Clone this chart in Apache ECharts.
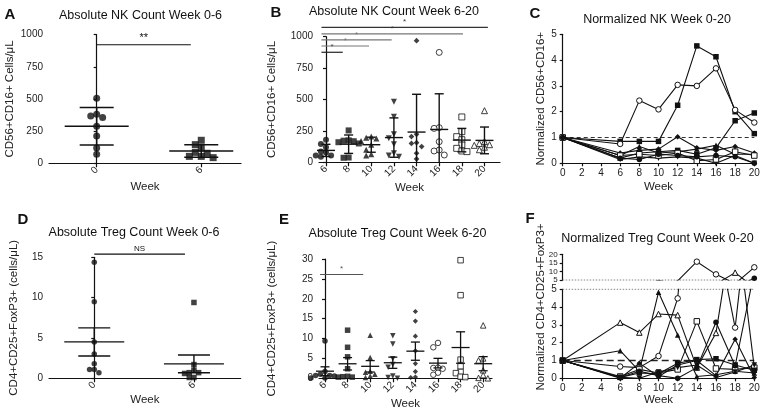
<!DOCTYPE html>
<html><head><meta charset="utf-8">
<script src="https://cdn.jsdelivr.net/npm/echarts@6/dist/echarts.min.js"></script>
<style>html,body{margin:0;padding:0;background:#fff}#c{width:764px;height:414px}</style>
</head><body><div id="c"></div>
<script>
const FONT = '"Liberation Sans", Arial, sans-serif';
const INK = '#111';

// ---------- categories / tick labels ----------
const earlyWeeks = ['0', '6'];
const lateWeeks = ['6', '8', '10', '12', '14', '16', '18', '20'];
const timeWeeks = [0, 6, 8, 10, 12, 14, 16, 18, 20];

// ---------- Panel A / B : absolute NK counts (cells/uL) ----------
const nkWeek0 = [505, 368, 357, 381, 288, 212, 119, 70];
const nkWeek6 = [179, 145, 119, 85, 78, 54, 44, 54];
const nkWeek8 = [254, 175, 172, 168, 160, 150, 38, 36];
const nkWeek10 = [205, 195, 190, 170, 140, 100, 65, 55];
const nkWeek12 = [483, 363, 223, 191, 143, 72, 45, 55];
const nkWeek14 = [968, 223, 205, 156, 150, 125, 72, 27];
const nkWeek16 = [875, 276, 270, 164, 98, 90, 58];
const nkWeek18 = [361, 244, 204, 180, 138, 111, 90, 85];
const nkWeek20 = [411, 165, 150, 140, 135, 120, 100];

// ---------- Panel D / E : absolute Treg counts (cells/uL) ----------
const tregWeek0 = [14.4, 9.5, 4.5, 3.0, 1.8, 1.1, 0.7, 1.1];
const tregWeek6 = [9.4, 1.7, 1.0, 0.7, 0.6, 0.7, 0.1, 0.1];
const tregWeek8 = [12.1, 7.8, 5.4, 2.4, 0.4, 0.3, 0.3, 0.5];
const tregWeek10 = [10.8, 5.2, 1.8, 1.5, 1.0, 0.6, 0.2];
const tregWeek12 = [10.7, 8.6, 4.9, 3.5, 2.8, 0.6, 0.2, 0.0];
const tregWeek14 = [16.8, 14.4, 10.6, 6.9, 3.7, 1.7, 0.3, 0.2];
const tregWeek16 = [8.9, 7.8, 2.6, 2.4, 2.7, 1.4, 0.9];
const tregWeek18 = [29.7, 20.9, 4.7, 3.0, 1.6, 1.3, 0.4, 0.3];
const tregWeek20 = [13.3, 5.0, 4.5, 2.0, 0.8, 0.1, 0.0];

// ---------- Panel C : normalized NK per patient (weeks 0..20) ----------
const nkNormP1 = [1, 0.85, 0.85, 0.85, 2.25, 4.55, 4.13, 2.0, 1.15];
const nkNormP2 = [1, 0.75, 2.43, 2.09, 3.04, 3.0, 3.68, 2.07, 1.58];
const nkNormP3 = [1, 0.2, 0.4, 0.45, 0.5, 0.35, 0.6, 1.65, 1.95];
const nkNormP4 = [1, 0.4, 0.5, 0.55, 1.03, 0.6, 0.5, 0.65, 0.4];
const nkNormP5 = [1, 0.3, 0.65, 0.4, 0.45, 0.55, 0.7, 0.35, 0.35];
const nkNormP6 = [1, 0.15, 0.25, 0.2, 0.25, 0.2, 0.0, 0.3, 0.0];
const nkNormP7 = [1, 0.3, 0.35, 0.3, 0.4, 0.1, 0.15, 0.45, 0.3];
const nkNormP8 = [1, 0.2, 0.15, 0.35, 0.3, 0.25, 0.3, 0.25, 0.0];

// ---------- Panel F : normalized Treg per patient (weeks 0..20) ----------
const tregNormP1 = [1, 3.13, 2.57, 3.61, 3.55, 0.6, 2.55, 9.3, 0.6];
const tregNormP2 = [1, 1.55, 0.4, 4.83, 2.43, 0.1, 0.2, 0.4, 0.3];
const tregNormP3 = [1, 0.66, 0.6, 1.25, 4.49, 15.7, 8.3, 2.85, 12.4];
const tregNormP4 = [1, 0.1, 0.5, 0.3, 0.5, 3.2, 0.55, 0.5, 0.6];
const tregNormP5 = [1, 0.05, 0.4, 0.15, 0.0, 0.6, 3.15, 0.7, 6.0];
const tregNormP6 = [1, 0.05, 0.3, 0.25, 0.85, 1.05, 1.1, 0.75, 0.45];
const tregNormP7 = [1, 0.0, 0.85, 0.1, 0.75, 1.0, 0.15, 2.19, 0.05];
const tregNormP8 = [1, 0.05, 0.0, 0.35, 0.6, 0.75, 0.05, 0.35, 0.75];

// ---------- significance annotations: [fromIdx, toIdx, y] ----------
const sigA = [[0, 0.9, 922]];
const sigALabels = ['**'];
const sigB = [[-0.2, 0.74, 876], [-0.2, 1.9, 926], [-0.2, 2.9, 974], [-0.2, 6.05, 1022], [-0.2, 7.15, 1075]];
const sigBLabels = ['*', '*', '*', '*', '*'];
const sigD = [[0, 0.91, 15.4]];
const sigDLabels = ['NS'];
const sigE = [[-0.22, 1.69, 26.1]];
const sigELabels = ['*'];

// ================= helpers =================
const lateSymbols = ['circle', 'rect', 'triangle', 'invtri', 'diamond', 'circleO', 'rectO', 'triangleO'];
const earlySymbols = ['circle', 'rect'];
const nkSymbols = ['rect', 'circleO', 'rect', 'diamond', 'triangle', 'invtri', 'rectO', 'circle'];
const tregSymbols = ['triangleO', 'triangle', 'circleO', 'rectO', 'circle', 'rect', 'diamond', 'invtri'];

function sym(name) {
  const open = name.endsWith('O');
  const base = open ? name.slice(0, -1) : name;
  const map = { circle: 'circle', rect: 'rect', triangle: 'triangle', diamond: 'diamond', invtri: 'path://M0,0L10,0L5,9Z' };
  return {
    symbol: map[base],
    itemStyle: open ? { color: '#fff', borderColor: INK, borderWidth: 1 } : { color: INK }
  };
}

function mean(a) { return a.reduce((s, v) => s + v, 0) / a.length; }
function sd(a) { const m = mean(a); return Math.sqrt(a.reduce((s, v) => s + (v - m) * (v - m), 0) / (a.length - 1)); }
function sem(a) { return sd(a) / Math.sqrt(a.length); }

// simple beeswarm: horizontal pixel offsets so markers do not overlap much
function swarm(values, pxPerY, size) {
  const order = values.map((v, i) => i).sort((a, b) => values[b] - values[a]);
  const placed = [];
  const out = new Array(values.length).fill(0);
  const d = size * 0.85;
  order.forEach(i => {
    const v = values[i];
    for (let k = 0; k < 20; k++) {
      const step = Math.ceil(k / 2) * (k % 2 ? -1 : 1);
      const cx = step * d;
      const hit = placed.some(p => {
        const dx = cx - p.x, dy = (v - p.v) * pxPerY;
        return dx * dx + dy * dy < d * d;
      });
      if (!hit) { placed.push({ x: cx, v }); out[i] = cx; break; }
    }
  });
  return out;
}

function scatterGroups(groups, symbols, axis, pxPerX, pxPerY, size) {
  return groups.map((vals, gi) => {
    const off = swarm(vals, pxPerY, size);
    const s = sym(symbols[gi]);
    return {
      type: 'scatter', xAxisIndex: axis, yAxisIndex: axis,
      symbol: s.symbol, itemStyle: s.itemStyle,
      symbolSize: symbols[gi].startsWith('diamond') ? size * 0.95 : size,
      clip: false, z: 4, silent: true,
      data: vals.map((v, i) => [gi + off[i] / pxPerX, v])
    };
  });
}

function errorBars(groups, axis, spread, halfMean, halfCap, width) {
  return {
    type: 'custom', xAxisIndex: axis, yAxisIndex: axis, z: 5, silent: true,
    data: groups.map((g, i) => { const m = mean(g), e = spread(g); return [i, m, m - e, m + e]; }),
    renderItem: function (params, api) {
      const x = api.value(0), m = api.value(1), loRaw = api.value(2), hi = api.value(3);
      const lo = Math.max(loRaw, 0);
      const pm = api.coord([x, m]), pl = api.coord([x, lo]), ph = api.coord([x, hi]);
      const st = { stroke: INK, lineWidth: width };
      const ch = [
        { type: 'line', shape: { x1: pm[0], y1: ph[1], x2: pm[0], y2: pl[1] }, style: st },
        { type: 'line', shape: { x1: pm[0] - halfMean, y1: pm[1], x2: pm[0] + halfMean, y2: pm[1] }, style: st },
        { type: 'line', shape: { x1: pm[0] - halfCap, y1: ph[1], x2: pm[0] + halfCap, y2: ph[1] }, style: st }
      ];
      if (loRaw >= 0) ch.push({ type: 'line', shape: { x1: pm[0] - halfCap, y1: pl[1], x2: pm[0] + halfCap, y2: pl[1] }, style: st });
      return { type: 'group', children: ch };
    }
  };
}

function sigBars(bars, labels, colors, axis, fontSize) {
  return {
    type: 'custom', xAxisIndex: axis, yAxisIndex: axis, z: 5, silent: true,
    data: bars,
    renderItem: function (params, api) {
      const p1 = api.coord([api.value(0), api.value(2)]);
      const p2 = api.coord([api.value(1), api.value(2)]);
      const c = colors[params.dataIndex];
      return {
        type: 'group', children: [
          { type: 'line', shape: { x1: p1[0], y1: p1[1], x2: p2[0], y2: p2[1] }, style: { stroke: c, lineWidth: 1.2 } },
          { type: 'text', style: { text: labels[params.dataIndex], x: (p1[0] + p2[0]) / 2, y: p1[1] - 1.5, fill: c, font: fontSize + 'px ' + FONT, align: 'center', verticalAlign: 'bottom' } }
        ]
      };
    }
  };
}

function hLines(lines, axis, style) {
  return {
    type: 'custom', xAxisIndex: axis, yAxisIndex: axis, z: 2, silent: true,
    data: lines,
    renderItem: function (params, api) {
      const p1 = api.coord([api.value(0), api.value(2)]);
      const p2 = api.coord([api.value(1), api.value(2)]);
      return { type: 'line', shape: { x1: p1[0], y1: p1[1], x2: p2[0], y2: p2[1] }, style: style };
    }
  };
}

function patientLines(rows, symbols, axis, clip) {
  return rows.map((row, pi) => {
    const s = sym(symbols[pi]);
    return {
      type: 'line', xAxisIndex: axis, yAxisIndex: axis, clip: clip, silent: true,
      symbol: s.symbol, itemStyle: s.itemStyle, symbolSize: 5.5, showSymbol: true,
      lineStyle: { color: INK, width: 1.1 }, z: 3,
      data: row.map((v, i) => [timeWeeks[i], v])
    };
  });
}

// ================= axes =================
const axisLineStyle = { lineStyle: { color: INK, width: 1.2 } };
const tickStyle = { show: true, inside: false, length: 4, lineStyle: { color: INK, width: 1.2 } };
const labelBase = { color: '#222', fontFamily: FONT, fontSize: 10 };
const nameStyle = { color: '#222', fontFamily: FONT, fontSize: 11.5 };

function catX(labels, min, max, nameGap) {
  const vals = labels.map((l, i) => i);
  return {
    type: 'value', min: min, max: max, splitLine: { show: false },
    axisLine: axisLineStyle, axisTick: Object.assign({ customValues: vals }, tickStyle),
    axisLabel: Object.assign({ customValues: vals, rotate: 45, margin: 5, formatter: v => labels[Math.round(v)] }, labelBase),
    name: 'Week', nameLocation: 'middle', nameGap: nameGap, nameTextStyle: nameStyle
  };
}
function weekX(nameGap, show) {
  return {
    type: 'value', min: 0, max: 20, interval: 2, splitLine: { show: false }, show: show,
    axisLine: axisLineStyle, axisTick: tickStyle,
    axisLabel: Object.assign({ margin: 5 }, labelBase),
    name: show ? 'Week' : '', nameLocation: 'middle', nameGap: nameGap, nameTextStyle: nameStyle
  };
}
function valY(min, max, interval, name, nameGap, fs) {
  return {
    type: 'value', min: min, max: max, interval: interval, splitLine: { show: false },
    axisLine: Object.assign({ show: true }, axisLineStyle), axisTick: tickStyle,
    axisLabel: Object.assign({}, labelBase, { margin: 6, fontSize: fs || 10, hideOverlap: false, showMinLabel: true, showMaxLabel: true, formatter: v => String(v) }),
    name: name, nameLocation: 'middle', nameRotate: 90, nameGap: nameGap, nameTextStyle: nameStyle
  };
}

function grid(left, top, width, height) {
  return { left: left, top: top, width: width, height: height, containLabel: false, outerBoundsMode: 'none' };
}

const grids = [
  grid(49, 34.7, 192, 128.6),      // 0 A
  grid(319, 36.7, 181, 125.6),     // 1 B
  grid(562.7, 34.3, 191.6, 129),   // 2 C
  grid(49, 257.3, 191.7, 121),     // 3 D
  grid(319, 259, 173, 119.3),      // 4 E
  grid(562.7, 254.3, 191.6, 25.7), // 5 F upper
  grid(562.7, 289.3, 191.6, 89)    // 6 F lower
];

const xAxes = [
  catX(earlyWeeks, -0.456, 1.38, 18),
  catX(lateWeeks, -0.309, 7.686, 20),
  weekX(18, true),
  catX(earlyWeeks, -0.454, 1.469, 16),
  catX(lateWeeks, -0.265, 7.39, 19),
  weekX(0, false),
  weekX(15, true)
];
xAxes.forEach((a, i) => a.gridIndex = i);

const yAxes = [
  valY(0, 1000, 250, 'CD56+CD16+ Cells/\u03bcL', 33),
  valY(0, 1000, 250, 'CD56+CD16+ Cells/\u03bcL', 41),
  valY(0, 5, 1, 'Normalized CD56+CD16+', 15),
  valY(0, 15, 5, 'CD4+CD25+FoxP3+ (cells/\u03bcL)', 29),
  valY(0, 30, 5, 'CD4+CD25+FoxP3+ (cells/\u03bcL)', 41),
  valY(5, 20, 5, '', 0, 8),
  valY(0, 5, 1, '', 0)
];
yAxes.forEach((a, i) => a.gridIndex = i);
yAxes[5].axisLabel.margin = 5;
yAxes[5].axisTick.length = 3;

// ================= series =================
const nkEarly = [nkWeek0, nkWeek6];
const nkLate = [nkWeek6, nkWeek8, nkWeek10, nkWeek12, nkWeek14, nkWeek16, nkWeek18, nkWeek20];
const tregEarly = [tregWeek0, tregWeek6];
const tregLate = [tregWeek6, tregWeek8, tregWeek10, tregWeek12, tregWeek14, tregWeek16, tregWeek18, tregWeek20];
const nkNorm = [nkNormP1, nkNormP2, nkNormP3, nkNormP4, nkNormP5, nkNormP6, nkNormP7, nkNormP8];
const tregNorm = [tregNormP1, tregNormP2, tregNormP3, tregNormP4, tregNormP5, tregNormP6, tregNormP7, tregNormP8];

const series = [].concat(
  scatterGroups(nkEarly, earlySymbols, 0, 104.6, 128.6 / 1000, 7),
  [errorBars(nkEarly, 0, sd, 32, 17, 1.5), sigBars(sigA, sigALabels, [INK], 0, 11)],
  scatterGroups(nkLate, lateSymbols, 1, 22.64, 125.6 / 1000, 6),
  [errorBars(nkLate, 1, sd, 9, 4.5, 1.4), sigBars(sigB, sigBLabels, ['#222', '#777', '#777', '#777', '#333'], 1, 8)],
  [hLines([[0, 20, 1]], 2, { stroke: '#333', lineWidth: 1, lineDash: [4, 3] })],
  patientLines(nkNorm, nkSymbols, 2, false),
  scatterGroups(tregEarly, earlySymbols, 3, 99.7, 121 / 15, 5.5),
  [errorBars(tregEarly, 3, sem, 30, 16, 1.4), sigBars(sigD, sigDLabels, [INK], 3, 8)],
  scatterGroups(tregLate, lateSymbols, 4, 22.6, 119.3 / 30, 5.5),
  [errorBars(tregLate, 4, sem, 9, 4.5, 1.3), sigBars(sigE, sigELabels, ['#555'], 4, 8)],
  [hLines([[0, 20, 5]], 5, { stroke: '#888', lineWidth: 1, lineDash: [1.5, 1.5] })],
  patientLines(tregNorm, tregSymbols, 5, true),
  [hLines([[0, 20, 5]], 6, { stroke: '#888', lineWidth: 1, lineDash: [1.5, 1.5] }),
   hLines([[0, 20, 1]], 6, { stroke: '#222', lineWidth: 1.5, lineDash: [7, 4] })],
  patientLines(tregNorm, tregSymbols, 6, true)
);

// ================= titles / letters =================
function txt(text, x, y, size, bold, align) {
  return { type: 'text', x: x, y: y, silent: true, style: { text: text, fill: '#111', font: (bold ? 'bold ' : '') + size + 'px ' + FONT, align: align || 'center', verticalAlign: 'middle' } };
}
const graphics = [
  txt('A', 10, 15, 15, true), txt('Absolute NK Count Week 0-6', 140.5, 16, 12.5),
  txt('B', 276, 13, 15, true), txt('Absolute NK Count Week 6-20', 394, 12, 12.5),
  txt('C', 535, 14, 15, true), txt('Normalized NK Week 0-20', 657, 19.5, 12.5),
  txt('D', 23, 220, 15, true), txt('Absolute Treg Count Week 0-6', 134, 232.5, 12.5),
  txt('E', 284, 220, 15, true), txt('Absolute Treg Count Week 6-20', 397.5, 233.5, 12.5),
  txt('F', 530, 219, 15, true), txt('Normalized Treg Count Week 0-20', 657.5, 238.5, 12.5),
  { type: 'text', x: 540.5, y: 307, rotation: Math.PI / 2, silent: true,
    style: { text: 'Normalized CD4+CD25+FoxP3+', fill: '#222', font: '11.5px ' + FONT, align: 'center', verticalAlign: 'middle' } }
];

const chart = echarts.init(document.getElementById('c'), null, { renderer: 'canvas' });
chart.setOption({
  animation: false,
  backgroundColor: '#fff',
  textStyle: { fontFamily: FONT },
  grid: grids, xAxis: xAxes, yAxis: yAxes,
  series: series,
  graphic: graphics
});
</script></body></html>
